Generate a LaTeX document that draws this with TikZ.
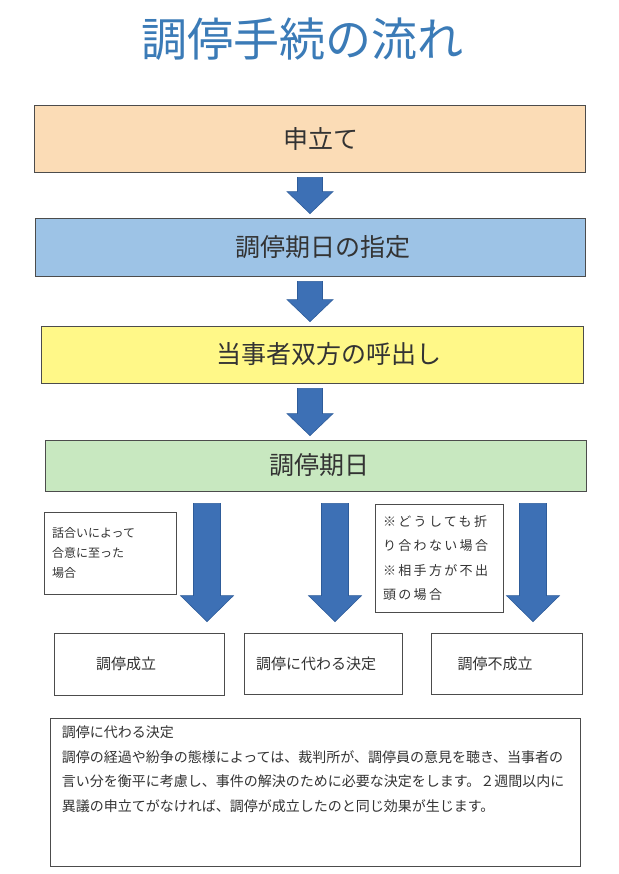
\documentclass[tikz,border=0pt]{standalone}
\usepackage{fontspec}
\setmainfont{Noto Sans CJK JP}
\newfontfamily\jpwide[LetterSpace=18]{Noto Sans CJK JP}
\usepackage{tikz}
\usetikzlibrary{calc,positioning}
\usepackage{xcolor}
\definecolor{titleblue}{HTML}{3B7BB7}
\definecolor{peach}{HTML}{FBDCB6}
\definecolor{skyblue}{HTML}{9DC3E6}
\definecolor{lemon}{HTML}{FFF888}
\definecolor{mint}{HTML}{C8E8C0}
\definecolor{arrowblue}{HTML}{3D70B5}
\definecolor{arrowedge}{HTML}{2E5C9A}

\begin{document}
\begin{tikzpicture}[x=1pt, y=-1pt,
  box/.style={draw=black!70, line width=0.8pt, inner sep=0pt, text=black!80},
  stage/.style={box, font=\fontsize{25}{30}\selectfont},
  result/.style={box, font=\fontsize{15}{18}\selectfont},
  note/.style={box, align=left, inner xsep=8pt},
  flow/.style={fill=arrowblue, draw=arrowedge, line width=0.6pt}]

\fill[white] (0,0) rectangle (618,874);
\useasboundingbox (0,0) rectangle (618,874);

% --- titolo ---
\node[font=\fontsize{46}{50}\selectfont, text=titleblue] (title) at (302,39) {調停手続の流れ};

% --- fasi in alto ---
\node[stage, fill=peach, minimum width=551pt, minimum height=67pt] (apply) at (309.5,138.5) {\hspace*{23pt}申立て};
\node[stage, fill=skyblue, minimum width=550pt, minimum height=58pt] (assign) at (310,247) {\hspace*{26pt}調停期日の指定};
\node[stage, fill=lemon, minimum width=542pt, minimum height=57pt] (summon) at (312,354.5) {\hspace*{34pt}当事者双方の呼出し};
\node[stage, fill=mint, minimum width=541pt, minimum height=51pt] (session) at (315.5,465.5) {\hspace*{7pt}調停期日};

% frecce tra le fasi
\foreach \a/\b in {apply/assign, assign/summon, summon/session}{
  \filldraw[flow] let \p1=(\a.south), \p2=(\b.north) in
    (297.5pt,\y1-5pt) -- (322.5pt,\y1-5pt) -- (322.5pt,\y2+26pt) -- (333pt,\y2+26pt)
    -- (310pt,\y2+4pt) -- (287pt,\y2+26pt) -- (297.5pt,\y2+26pt) -- cycle;
}

% --- esiti ---
\node[result, minimum width=170pt, minimum height=62pt] (ok) at (139,664) {調停成立\hspace*{26pt}};
\node[result, minimum width=158pt, minimum height=61pt] (alt) at (323,663.5) {調停に代わる決定\hspace*{14pt}};
\node[result, minimum width=151pt, minimum height=61pt] (fail) at (506.5,663.5) {調停不成立\hspace*{23pt}};

\foreach \r/\xc in {ok/207, alt/335, fail/533}{
  \filldraw[flow] let \p1=(session.south), \p2=(\r.north) in
    (\xc pt-13.5pt,\y1-12pt) -- (\xc pt+13.5pt,\y1-12pt) -- (\xc pt+13.5pt,\y2+37pt)
    -- (\xc pt+26.5pt,\y2+37pt) -- (\xc pt,\y2+11pt) -- (\xc pt-26.5pt,\y2+37pt)
    -- (\xc pt-13.5pt,\y2+37pt) -- cycle;
}

% note
\node[note, font=\fontsize{12}{20}\selectfont, text width=116pt, minimum height=82pt] (agree) at (110,553)
  {話合いによって\\合意に至った\\場合};
\node[note, font=\jpwide\fontsize{13}{24.5}\selectfont, text width=112pt, minimum height=108pt] (noagree) at (439,558)
  {※どうしても折\\り合わない場合\\※相手方が不出\\頭の場合};

% --- spiegazione ---
\node[box, minimum width=530pt, minimum height=148pt] (expl) at (315,792) {};
\node[anchor=north west, align=left, inner sep=0pt, text width=512pt, text=black!80,
      font=\fontsize{14}{24.5}\selectfont] (expltext) at ($(expl.north west)+(12,8)$)
  {調停に代わる決定\\
   調停の経過や紛争の態様によっては、裁判所が、調停員の意見を聴き、当事者の\\
   言い分を衡平に考慮し、事件の解決のために必要な決定をします。２週間以内に\\
   異議の申立てがなければ、調停が成立したのと同じ効果が生じます。};

\end{tikzpicture}
\end{document}
